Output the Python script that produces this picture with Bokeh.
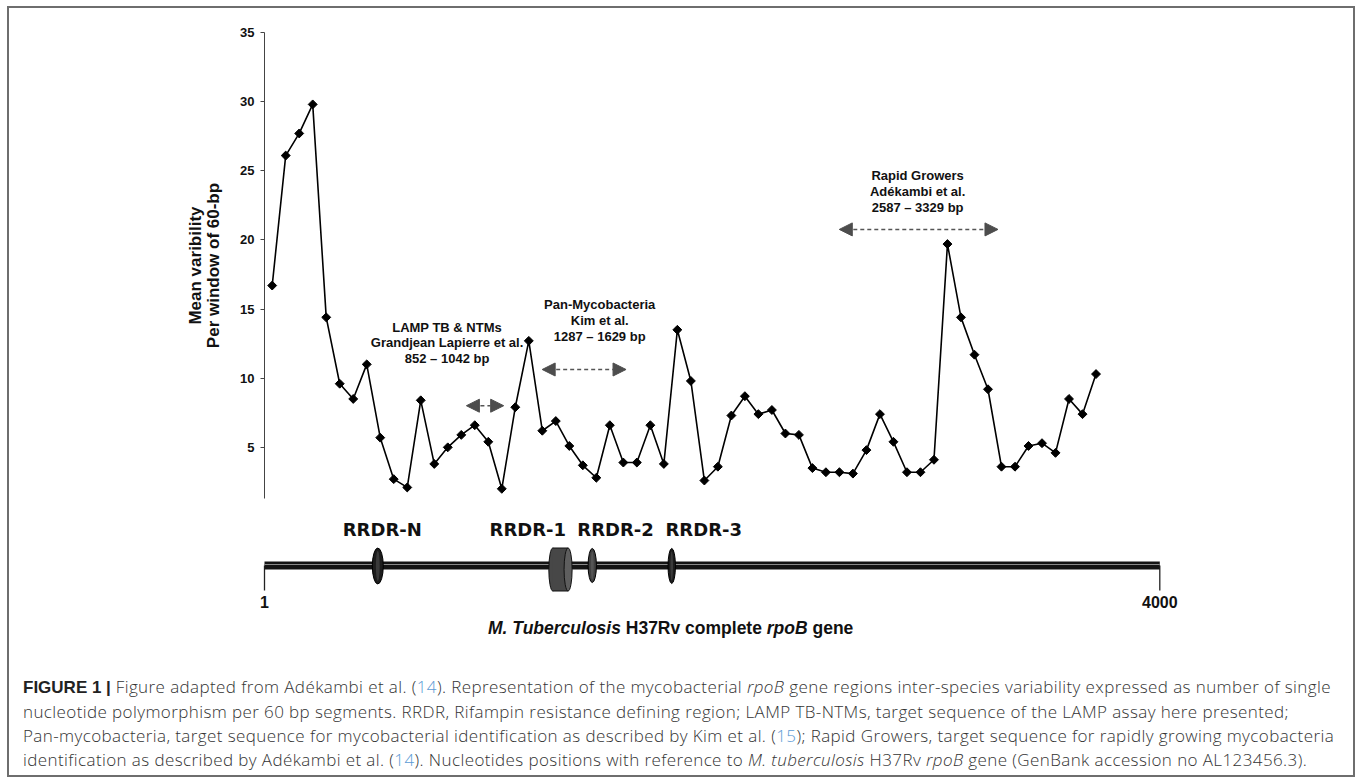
from bokeh.plotting import figure
from bokeh.models import (ColumnDataSource, Range1d, LinearAxis, FixedTicker,
                          SingleIntervalTicker, Arrow, NormalHead, Div)
from bokeh.layouts import column
from bokeh.embed import file_html
from bokeh.resources import INLINE
from bokeh.core.properties import value

# ---------------- data ----------------
window = list(range(1, 63))  # 60-bp window index along rpoB
variability = [16.7, 26.1, 27.7, 29.8, 14.4, 9.6, 8.5, 11.0, 5.7, 2.7,
               2.1, 8.4, 3.8, 5.0, 5.9, 6.6, 5.4, 2.0, 7.9, 12.7,
               6.2, 6.9, 5.1, 3.7, 2.8, 6.6, 3.9, 3.9, 6.6, 3.8,
               13.5, 9.8, 2.6, 3.6, 7.3, 8.7, 7.4, 7.7, 6.0, 5.9,
               3.5, 3.2, 3.2, 3.1, 4.8, 7.4, 5.4, 3.2, 3.2, 4.1,
               19.7, 14.4, 11.7, 9.2, 3.6, 3.6, 5.1, 5.3, 4.6, 8.5,
               7.4, 10.3]

region_lines = [["LAMP TB & NTMs", "Grandjean Lapierre et al.", "852 \u2013 1042 bp"],
                ["Pan-Mycobacteria", "Kim et al.", "1287 \u2013 1629 bp"],
                ["Rapid Growers", "Ad\u00e9kambi et al.", "2587 \u2013 3329 bp"]]
region_text_x = [13.95, 25.25, 48.79]
region_text_y = [[13.69, 12.55, 11.41], [15.31, 14.15, 13.02], [24.66, 23.5, 22.38]]
region_arrow_x = [(15.38, 18.14), (20.99, 27.2), (42.99, 54.74)]
region_arrow_y = [8.01, 10.63, 20.76]

gene_start, gene_end = 1, 4000
rrdr_names = ["RRDR-N", "RRDR-1", "RRDR-2", "RRDR-3"]
rrdr_center_bp = [507, 1323, 1465, 1820]
rrdr_width_bp = [49, 104, 37, 33]
rrdr_label_bp = [527, 1177, 1569, 1963]

caption_lines = [
    '<span style="color:#222;font-family:\'Liberation Sans\',Arial,sans-serif;font-weight:700;'
    'letter-spacing:0">FIGURE 1 |</span> '
    'Figure adapted from Ad\u00e9kambi et al. (<span class="c">14</span>). '
    'Representation of the mycobacterial <i>rpoB</i> gene regions inter-species variability expressed as number of single',
    'nucleotide polymorphism per 60 bp segments. RRDR, Rifampin resistance defining region; LAMP TB-NTMs, '
    'target sequence of the LAMP assay here presented;',
    'Pan-mycobacteria, target sequence for mycobacterial identification as described by Kim et al. (<span class="c">15</span>); '
    'Rapid Growers, target sequence for rapidly growing mycobacteria',
    'identification as described by Ad\u00e9kambi et al. (<span class="c">14</span>). Nucleotides positions with reference to '
    '<i>M. tuberculosis</i> H37Rv <i>rpoB</i> gene (GenBank accession no AL123456.3).',
]

FONT = "Liberation Sans"
W = 1344

# ---------------- top chart ----------------
p1 = figure(width=W, height=502, x_range=Range1d(0.43, 66.70), y_range=Range1d(1.3, 35),
            output_backend="svg", toolbar_location=None, x_axis_location=None,
            min_border_left=255, min_border_right=194, min_border_top=24, min_border_bottom=12)
p1.grid.grid_line_color = None
p1.outline_line_color = None

ax = p1.yaxis[0]
ax.ticker = SingleIntervalTicker(interval=5)
ax.axis_label = "Per window of 60-bp"
ax.axis_label_text_font = FONT
ax.axis_label_text_font_size = "17px"
ax.axis_label_text_font_style = "bold"
ax.axis_label_text_color = "#111"
ax.axis_label_standoff = 14
ax.major_label_text_font = FONT
ax.major_label_text_font_size = "13px"
ax.major_label_text_font_style = "bold"
ax.major_label_text_color = "#111"
ax.major_label_standoff = 6
ax.major_tick_out = 4
ax.major_tick_in = 0
ax.major_tick_line_color = "#444"
ax.minor_tick_line_color = None
ax.axis_line_color = "#444"

ax2 = LinearAxis(ticker=FixedTicker(ticks=[]), axis_label="Mean varibility",
                 axis_line_color=None, major_tick_line_color=None, minor_tick_line_color=None,
                 major_label_text_font_size="0px", axis_label_standoff=-3,
                 axis_label_text_font=FONT, axis_label_text_font_size="17px",
                 axis_label_text_font_style="bold", axis_label_text_color="#111")
p1.add_layout(ax2, "left")

src = ColumnDataSource(dict(x=window, y=variability))
p1.line("x", "y", source=src, line_color="#000", line_width=1.6)
p1.scatter("x", "y", source=src, marker="square", size=6.3, angle=0.785398,
           fill_color="#000", line_color="#000")

tx, ty, tt = [], [], []
for lines, x0, ys in zip(region_lines, region_text_x, region_text_y):
    for line, y0 in zip(lines, ys):
        tx.append(x0); ty.append(y0); tt.append(line)
p1.text(x=tx, y=ty, text=tt, text_font=value(FONT), text_font_size="13px",
        text_font_style="bold", text_align="center", text_baseline="middle", text_color="#111")

for (xa, xb), ya in zip(region_arrow_x, region_arrow_y):
    p1.add_layout(Arrow(start=NormalHead(size=13, fill_color="#4d4d4d", line_color="#4d4d4d"),
                        end=NormalHead(size=13, fill_color="#4d4d4d", line_color="#4d4d4d"),
                        x_start=xa, y_start=ya, x_end=xb, y_end=ya,
                        line_color="#555", line_width=1.5, line_dash="4 3"))

# ---------------- gene diagram ----------------
H2 = 102
k = 0.22388  # px per bp
x0 = gene_start - 255 / k
p2 = figure(width=W, height=H2, x_range=Range1d(x0, x0 + W / k), y_range=Range1d(0, H2),
            output_backend="svg", toolbar_location=None, x_axis_location=None, y_axis_location=None,
            min_border=0, min_border_left=0, min_border_right=0, min_border_top=0, min_border_bottom=0)
p2.frame_align = False
p2.grid.grid_line_color = None
p2.outline_line_color = None

BAR_Y = 47
p2.segment(x0=[gene_start, gene_end], y0=[BAR_Y, BAR_Y], x1=[gene_start, gene_end], y1=[22, 22],
           line_color="#222", line_width=1.3)
p2.segment(x0=[gene_start], y0=[BAR_Y], x1=[gene_end], y1=[BAR_Y], line_color="#141414",
           line_width=8, line_cap="butt")
p2.segment(x0=[gene_start], y0=[BAR_Y + 1], x1=[gene_end], y1=[BAR_Y + 1], line_color="#8a8a8a",
           line_width=1.2, line_cap="butt")

# RRDR-1 cylinder
c1, w1 = rrdr_center_bp[1], rrdr_width_bp[1]
cap = 36
cl, cr = c1 - w1 / 2 + cap / 2, c1 + w1 / 2 - cap / 2
CY, CH = 43, 43
p2.ellipse(x=[cl], y=[CY], width=[cap], height=[CH], fill_color="#474747", line_color="#111", line_width=1)
p2.rect(x=[(cl + cr) / 2], y=[CY], width=[cr - cl], height=[CH], fill_color="#474747", line_color=None)
p2.segment(x0=[cl, cl], y0=[CY + CH / 2, CY - CH / 2], x1=[cr, cr], y1=[CY + CH / 2, CY - CH / 2],
           line_color="#111", line_width=1)
p2.ellipse(x=[cr], y=[CY], width=[cap], height=[CH], fill_color="#5e5e5e", line_color="#111", line_width=1)

# other RRDR regions as discs
idx = [0, 2, 3]
p2.ellipse(x=[rrdr_center_bp[i] for i in idx], y=[46.5, 47, 46.5],
           width=[rrdr_width_bp[i] for i in idx], height=[36, 34, 35],
           fill_color=["#1c1c1c", "#404040", "#1c1c1c"], line_color="#000", line_width=1)
p2.ellipse(x=[rrdr_center_bp[i] for i in idx], y=[46.5, 47, 46.5],
           width=[rrdr_width_bp[i] * 0.35 for i in idx], height=[30, 28, 29],
           fill_color=["#3a3a3a", "#555555", "#3a3a3a"], line_color=None)

p2.text(x=rrdr_label_bp, y=[83.3] * 4, text=rrdr_names, text_font=value("DejaVu Sans"),
        text_font_size="18px", text_font_style="bold", text_align="center",
        text_baseline="middle", text_color="#111")
p2.text(x=[gene_start, gene_end], y=[10.3, 10.3], text=[str(gene_start), str(gene_end)],
        text_font=value(FONT), text_font_size="16px", text_font_style="bold",
        text_align="center", text_baseline="middle", text_color="#111")

# ---------------- gene title and caption ----------------
title_div = Div(text='<div style="padding-left:479px;padding-top:2px;font-family:\'Liberation Sans\',Arial,sans-serif;'
                     'font-size:17.5px;font-weight:bold;line-height:28px;color:#111;white-space:nowrap">'
                     '<i>M. Tuberculosis</i> H37Rv complete <i>rpoB</i> gene</div>',
                width=W, height=30, margin=0)

cap_html = ('<style>.c{color:#5b9bd5}</style>'
            '<div style="padding-left:14px;padding-top:33px;font-family:\'Open Sans\',Roboto,sans-serif;'
            'font-weight:300;font-size:17px;letter-spacing:0.4px;line-height:24px;color:#333;white-space:nowrap">'
            + '<br>'.join(caption_lines) + '</div>')
cap_div = Div(text=cap_html, width=W, height=133, margin=0)

layout = column(p1, p2, title_div, cap_div, spacing=0, margin=(6, 0, 0, 7),
                styles={"border": "2px solid #6e6e6e"})

open("out.html", "w").write(file_html(layout, INLINE))
